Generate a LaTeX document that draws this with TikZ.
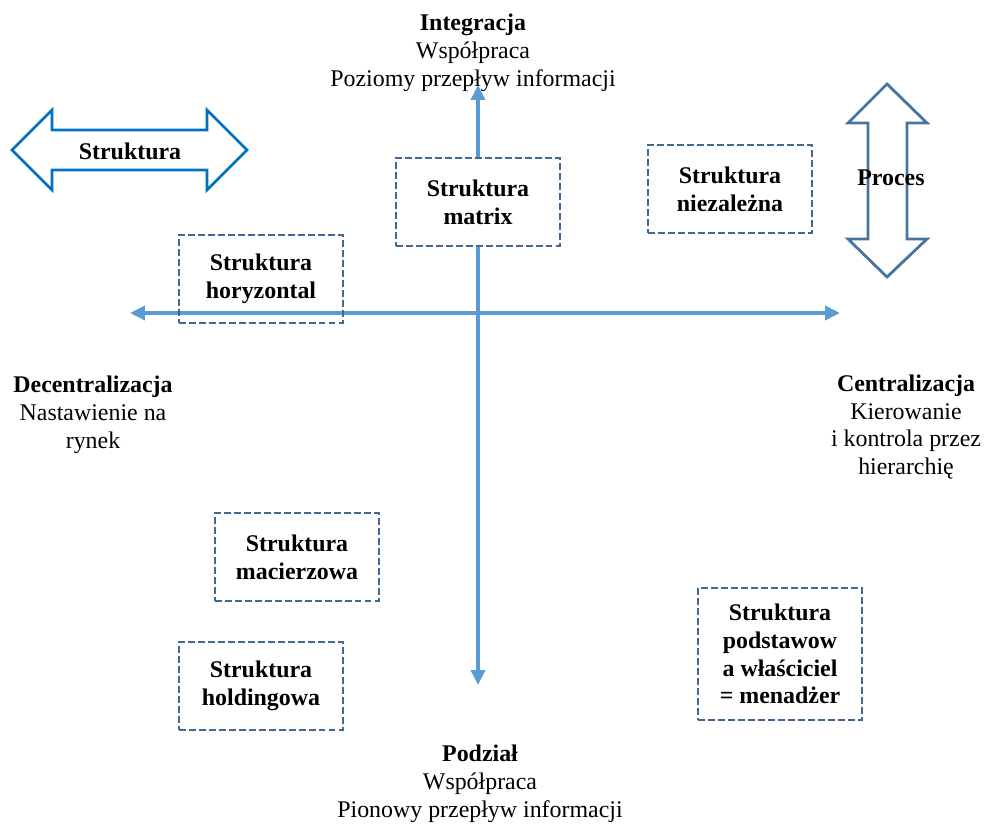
\documentclass[tikz,border=0pt]{standalone}
\usepackage{fontspec}
\setmainfont{Liberation Serif}
\usetikzlibrary{arrows.meta}
\definecolor{axisblue}{RGB}{91,155,213}
\definecolor{boxblue}{RGB}{65,105,150}
\definecolor{strblue}{RGB}{0,112,192}
\definecolor{procblue}{RGB}{72,116,160}
\newcommand{\diagfont}{\fontsize{13.6}{15.8}\selectfont}
\tikzset{
  box/.style={draw=boxblue, line width=1.1pt, dash pattern=on 0.13cm off 0.07cm,
    minimum width=3.28cm, minimum height=1.76cm, align=center, font=\diagfont\bfseries},
  lbl/.style={align=center, font=\diagfont},
  axis/.style={draw=axisblue, line width=2pt,
    {Triangle[length=0.3cm,width=0.28cm]}-{Triangle[length=0.3cm,width=0.28cm]}},
  blockarrow/.style={line width=1.6pt, line join=miter},
}
\begin{document}
\begin{tikzpicture}[x=0.02cm, y=-0.02cm]
  \useasboundingbox (0,0) rectangle (984,827);
  % axes
  \coordinate (axisL) at (130,313);
  \coordinate (axisR) at (840,313);
  \coordinate (axisT) at (478,85);
  \coordinate (axisB) at (478,685);
  \draw[axis] (axisL) -- (axisR);
  \draw[axis] (axisT) -- (axisB);
  % block arrows
  \draw[blockarrow, strblue] (12,150) -- (52,110) -- (52,130) -- (207,130) -- (207,110)
    -- (247,150) -- (207,190) -- (207,170) -- (52,170) -- (52,190) -- cycle;
  \node[font=\diagfont\bfseries] (strArrow) at (130,151) {Struktura};
  \draw[blockarrow, procblue] (887,84) -- (927,123) -- (907,123) -- (907,239) -- (927,239)
    -- (887,277) -- (848,239) -- (868,239) -- (868,123) -- (848,123) -- cycle;
  \node[font=\diagfont\bfseries] (procArrow) at (891,178) {Proces};
  % boxes
  \node[box, fill=white] (matrix) at (478,202) {Struktura\\matrix};
  \node[box] (niezal) at (730,189) {Struktura\\niezależna};
  \node[box] (horyz) at (261,279) {Struktura\\horyzontal};
  \node[box] (macierz) at (297,557) {Struktura\\macierzowa};
  \node[box] (holding) at (261,686) {Struktura\\holdingowa};
  \node[box, minimum height=2.64cm] (podst) at (780,654) {Struktura\\podstawow\\a właściciel\\= menadżer};
  % axis labels
  \node[lbl] (integr) at (473,53) {\textbf{Integracja}\\Współpraca\\Poziomy przepływ informacji};
  \node[lbl] (decentr) at (93,415) {\textbf{Decentralizacja}\\Nastawienie na\\rynek};
  \node[lbl] (centr) at (906,427) {\textbf{Centralizacja}\\Kierowanie\\i kontrola przez\\hierarchię};
  \node[lbl] (podzial) at (480,784) {\textbf{Podział}\\Współpraca\\Pionowy przepływ informacji};
\end{tikzpicture}
\end{document}
